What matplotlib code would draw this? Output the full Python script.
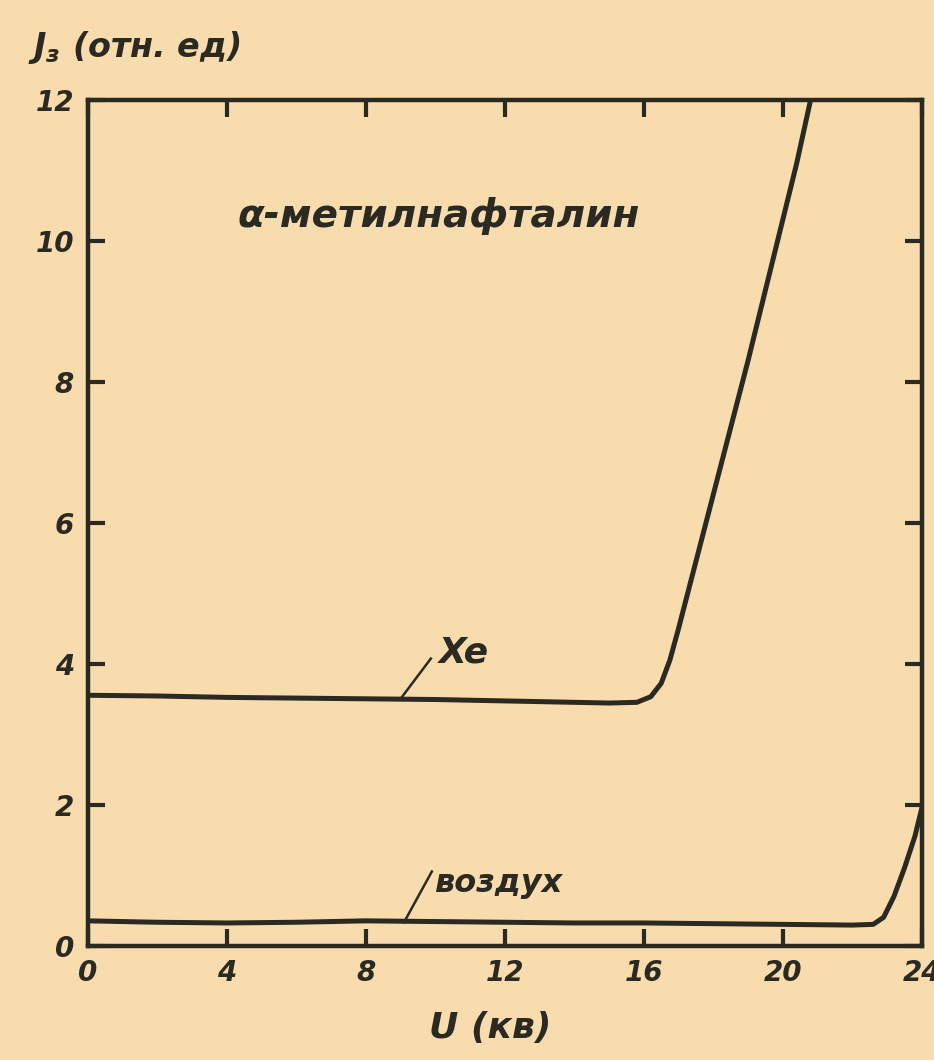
import numpy as np
import matplotlib.pyplot as plt

# Xe curve
u_xe = [0, 2, 4, 6, 8, 10, 12, 14, 15, 15.8, 16.2, 16.5, 16.75, 17.0, 17.5, 18.0, 18.5, 19.0, 19.5, 20.0, 20.4, 20.8, 21.0]
j_xe = [3.55, 3.54, 3.52, 3.51, 3.50, 3.49, 3.47, 3.45, 3.44, 3.45, 3.53, 3.72, 4.05, 4.5, 5.45, 6.4, 7.35, 8.3, 9.3, 10.3, 11.1, 12.0, 12.4]

# air curve
u_air = [0, 2, 4, 6, 8, 10, 12, 14, 16, 18, 20, 22, 22.6, 22.9, 23.2, 23.5, 23.8, 24]
j_air = [0.35, 0.33, 0.32, 0.33, 0.35, 0.34, 0.33, 0.32, 0.32, 0.31, 0.30, 0.29, 0.30, 0.40, 0.70, 1.10, 1.55, 1.95]

xticks = [0, 4, 8, 12, 16, 20, 24]
yticks = [0, 2, 4, 6, 8, 10, 12]

paper = '#f8dcae'
ink = '#2b2a22'

plt.rcParams['font.family'] = 'DejaVu Sans'
plt.rcParams['font.weight'] = 'bold'
plt.rcParams['font.style'] = 'italic'

fig = plt.figure(figsize=(9.34, 10.6), dpi=100, facecolor=paper)
ax = fig.add_axes([0.094, 0.108, 0.893, 0.798], facecolor=paper)

ax.plot(u_xe, j_xe, color=ink, lw=3.6, solid_capstyle='round', solid_joinstyle='round')
ax.plot(u_air, j_air, color=ink, lw=3.6, solid_capstyle='round', solid_joinstyle='round')

ax.set_xlim(0, 24)
ax.set_ylim(0, 12)
ax.set_xticks(xticks)
ax.set_yticks(yticks)
ax.tick_params(direction='in', length=12, width=3, colors=ink, labelsize=20,
               top=True, right=True, pad=10)
for s in ax.spines.values():
    s.set_linewidth(3.2)
    s.set_color(ink)

# leader lines for the curve labels
ax.plot([9.0, 9.87], [3.5, 4.07], color=ink, lw=1.8)
ax.plot([9.1, 9.9], [0.33, 1.05], color=ink, lw=1.8)
ax.text(10.1, 4.15, 'Xe', fontsize=26, color=ink, va='center', ha='left')
ax.text(9.95, 0.88, 'воздух', fontsize=23, color=ink, va='center', ha='left')
ax.text(4.3, 10.35, 'α-метилнафталин', fontsize=28, color=ink, va='center', ha='left')

fig.text(0.525, 0.03, 'U (кв)', fontsize=26, color=ink, ha='center', va='center')
fig.text(0.03, 0.955, '$J_з$ (отн. ед)', fontsize=24, color=ink, ha='left', va='center')

fig.savefig('out.png', dpi=100, facecolor=paper)
